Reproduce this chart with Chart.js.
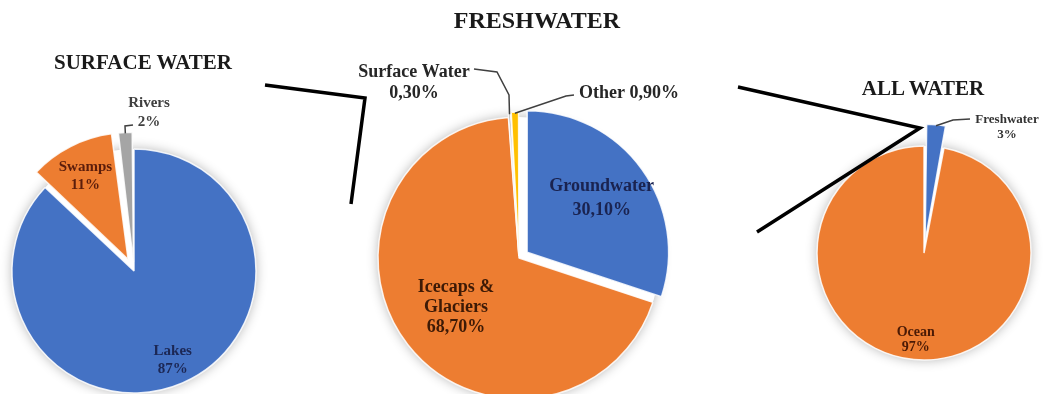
<!DOCTYPE html>
<html>
<head>
<meta charset="utf-8">
<script src="https://cdn.jsdelivr.net/npm/chart.js@4"></script>
<style>
  html, body { margin:0; padding:0; width:1043px; height:394px; overflow:hidden; background:#fff; }
  canvas { position:absolute; }
  .title { position:absolute; font-family:"Liberation Serif","Times New Roman",serif; font-weight:bold; color:#1a1a1a; white-space:nowrap; transform:translate(-50%,-50%); z-index:5; }
  svg { position:absolute; left:0; top:0; z-index:4; }
</style>
</head>
<body>
<div class="title" style="left:537px; top:20px; font-size:24px;">FRESHWATER</div>
<div class="title" style="left:143px; top:62px; font-size:21px;">SURFACE WATER</div>
<div class="title" style="left:923px; top:88px; font-size:21px;">ALL WATER</div>

<svg width="1043" height="394">
  <polyline points="265,85 365,98 351,204" fill="none" stroke="#000" stroke-width="3.5" stroke-linejoin="miter"/>
  <polyline points="738,87 920,128 757,232" fill="none" stroke="#000" stroke-width="3.5" stroke-linejoin="miter"/>
</svg>

<canvas id="c1" width="360" height="360" style="left:-46px; top:91px;"></canvas>
<canvas id="c2" width="440" height="440" style="left:299px; top:38px;"></canvas>
<canvas id="c3" width="300" height="300" style="left:774px; top:103px;"></canvas>

<script>
// ---------- DATA ----------
const surfaceLabels = ['Lakes', 'Swamps', 'Rivers'];
const surfaceValues = [87, 11, 2];

const freshLabels = ['Groundwater', 'Icecaps &\nGlaciers', 'Surface Water', 'Other'];
const freshValues = [30.1, 68.7, 0.3, 0.9];

const allLabels = ['Freshwater', 'Ocean'];
const allValues = [3, 97];

// ---------- helpers ----------
const BLUE = '#4472C4', ORANGE = '#ED7D31', GRAY = '#A5A5A5', YELLOW = '#FFC000';
const fmtInt = v => v + '%';
const fmtDec = v => v.toFixed(2).replace('.', ',') + '%';
const FONT = '"Liberation Serif","Times New Roman",serif';
const labelItems = {};

const shadowPlugin = {
  id: 'pieShadow',
  beforeDatasetsDraw(chart) {
    const arc = chart.getDatasetMeta(0).data[0];
    if (!arc) return;
    const ctx = chart.ctx;
    ctx.save();
    ctx.shadowColor = 'rgba(0,0,0,0.30)';
    ctx.shadowBlur = 12;
    ctx.fillStyle = '#fff';
    ctx.beginPath();
    ctx.arc(arc.x, arc.y, arc.outerRadius, 0, Math.PI * 2);
    ctx.fill();
    ctx.restore();
  }
};

const labelPlugin = {
  id: 'sliceLabelsDraw',
  afterDatasetsDraw(chart) {
    const ctx = chart.ctx;
    const meta = chart.getDatasetMeta(0);
    const items = labelItems[chart.canvas.id] || [];
    items.forEach(it => {
      const arc = meta.data[it.index];
      const p = arc.getProps(['x', 'y', 'startAngle', 'endAngle', 'outerRadius', 'circumference'], true);
      const mid = (p.startAngle + p.endAngle) / 2;
      const off = (arc.options.offset || 0) / 4;
      const grow = off * (1 - Math.sin(Math.min(Math.PI, p.circumference)));
      const ax = p.x + Math.cos(mid) * off, ay = p.y + Math.sin(mid) * off;
      let lx, ly;
      if (it.at) { lx = p.x + it.at[0]; ly = p.y + it.at[1]; }
      else { lx = ax + Math.cos(mid) * p.outerRadius * it.frac; ly = ay + Math.sin(mid) * p.outerRadius * it.frac; }
      if (it.leader) {
        ctx.save();
        ctx.strokeStyle = it.leaderColor || '#404040';
        ctx.lineWidth = 1.5;
        ctx.beginPath();
        it.leader.forEach((q, i) => {
          const x = p.x + q[0], y = p.y + q[1];
          if (i) ctx.lineTo(x, y); else ctx.moveTo(x, y);
        });
        const er = p.outerRadius + grow - 1;
        ctx.lineTo(ax + Math.cos(mid) * er, ay + Math.sin(mid) * er);
        ctx.stroke();
        ctx.restore();
      }
      ctx.save();
      ctx.fillStyle = it.color;
      ctx.font = 'bold ' + it.size + 'px ' + FONT;
      ctx.textAlign = 'center';
      ctx.textBaseline = 'middle';
      const n = it.text.length;
      it.text.forEach((s, i) => ctx.fillText(s, lx, ly + (i - (n - 1) / 2) * it.lh));
      ctx.restore();
    });
  }
};

function pie(id, labels, values, colors, offsets, radius, items) {
  labelItems[id] = items;
  return new Chart(document.getElementById(id), {
    type: 'pie',
    data: {
      labels: labels,
      datasets: [{
        data: values,
        backgroundColor: colors,
        borderColor: 'rgba(255,255,255,0.85)',
        borderWidth: 1.5,
        offset: offsets
      }]
    },
    options: {
      responsive: false,
      animation: false,
      radius: radius,
      layout: { padding: 0 },
      plugins: {
        legend: { display: false },
        tooltip: { enabled: false }
      }
    },
    plugins: [shadowPlugin, labelPlugin]
  });
}

const split = (lbl) => lbl.split('\n');

// Surface water
pie('c1', surfaceLabels, surfaceValues, [BLUE, ORANGE, GRAY], [0, 52, 36], 122, [
  { index: 0, frac: 0.80, text: [...split(surfaceLabels[0]), fmtInt(surfaceValues[0])], color: '#1c2754', size: 15, lh: 18 },
  { index: 1, frac: 0.77, text: [...split(surfaceLabels[1]), fmtInt(surfaceValues[1])], color: '#5b1d0b', size: 15, lh: 18 },
  { index: 2, at: [15, -158.5], text: [...split(surfaceLabels[2]), fmtInt(surfaceValues[2])], color: '#404040', size: 15, lh: 19,
    leader: [[-1, -146], [-9, -145]], leaderColor: '#404040' }
]);

// Freshwater
pie('c2', freshLabels, freshValues, [BLUE, ORANGE, GRAY, YELLOW], [40, 0, 8, 10], 141, [
  { index: 0, frac: 0.652, text: [...split(freshLabels[0]), fmtDec(freshValues[0])], color: '#1a2350', size: 18, lh: 24 },
  { index: 1, frac: 0.567, text: [...split(freshLabels[1]), fmtDec(freshValues[1])], color: '#3d1a06', size: 18, lh: 20 },
  { index: 2, at: [-105, -175.5], text: [...split(freshLabels[2]), fmtDec(freshValues[2])], color: '#262626', size: 18, lh: 21,
    leader: [[-45, -189], [-22, -186], [-10, -163]], leaderColor: '#404040' },
  { index: 3, at: [110, -165], text: [freshLabels[3] + ' ' + fmtDec(freshValues[3])], color: '#262626', size: 18, lh: 20,
    leader: [[55, -163], [47, -162]], leaderColor: '#404040' }
]);

// All water
pie('c3', allLabels, allValues, [BLUE, ORANGE], [48, 0], 107, [
  { index: 1, frac: 0.816, text: [...split(allLabels[1]), fmtInt(allValues[1])], color: '#4a1a05', size: 14, lh: 15 },
  { index: 0, at: [83, -125.5], text: [...split(allLabels[0]), fmtInt(allValues[0])], color: '#333333', size: 13, lh: 15,
    leader: [[46, -134], [29, -133]], leaderColor: '#404040' }
]);
</script>
</body>
</html>
